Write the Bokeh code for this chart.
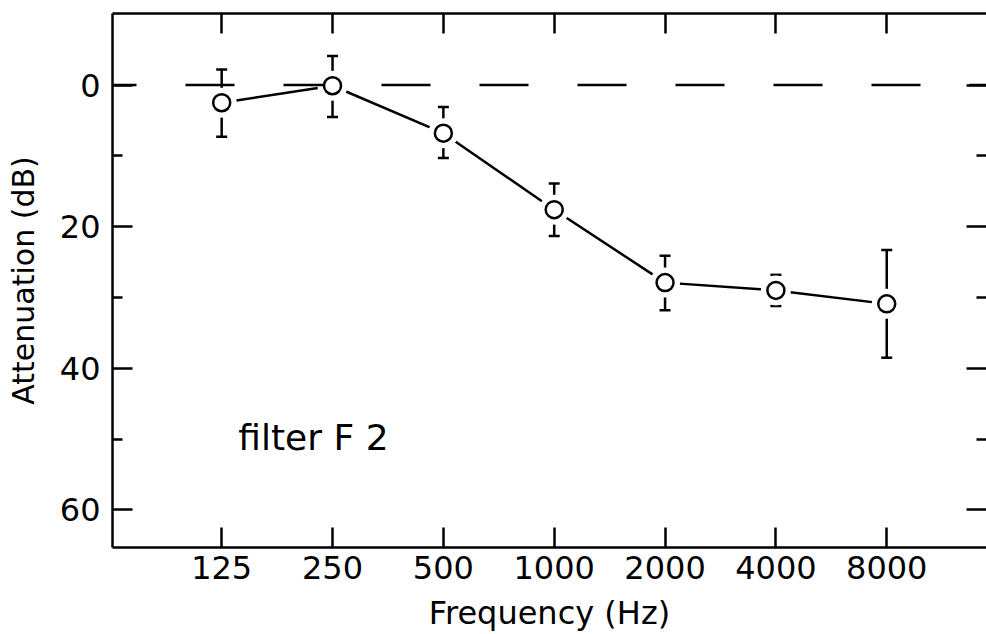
from bokeh.plotting import figure
from bokeh.models import (Range1d, FixedTicker, LinearAxis, Span, Whisker,
                          ColumnDataSource, Label, TeeHead)
from bokeh.embed import file_html
from bokeh.resources import INLINE

# ---- data ----
freq_labels = ["125", "250", "500", "1000", "2000", "4000", "8000"]
freq_index = [0, 1, 2, 3, 4, 5, 6]
attenuation = [2.5, 0.1, 6.8, 17.6, 27.9, 29.0, 30.9]
err_low = [-2.2, -4.1, 3.1, 13.9, 24.1, 26.8, 23.3]
err_high = [7.3, 4.5, 10.3, 21.3, 31.8, 31.2, 38.5]
y_major = [0, 20, 40, 60]
y_minor = [10, 30, 50]

FONT = "DejaVu Sans"
LW = 2.5

src = ColumnDataSource(dict(x=freq_index, y=attenuation, lo=err_low, hi=err_high))

p = figure(width=986, height=634, output_backend="svg", toolbar_location=None,
           x_range=Range1d(-0.985, 6.9), y_range=Range1d(65.3, -10.1),
           min_border_left=112, min_border_top=13, min_border_right=0,
           min_border_bottom=84, x_axis_location=None, y_axis_location=None)
p.background_fill_color = "white"
p.border_fill_color = "white"
p.outline_line_color = None
p.xgrid.visible = False
p.ygrid.visible = False

def style(ax, labels=True):
    ax.axis_line_width = LW
    ax.axis_line_color = "black"
    ax.major_tick_line_width = LW
    ax.major_tick_line_color = "black"
    ax.minor_tick_line_width = LW
    ax.minor_tick_line_color = "black"
    ax.major_tick_in = 20
    ax.major_tick_out = 0
    ax.minor_tick_in = 10
    ax.minor_tick_out = 0
    ax.major_label_text_color = "black"
    ax.major_label_text_font = FONT
    ax.major_label_text_font_size = "32px"
    ax.axis_label_text_font = FONT
    ax.axis_label_text_font_style = "normal"
    ax.axis_label_text_color = "black"
    if not labels:
        ax.major_label_text_color = None
        ax.major_label_text_font_size = "1px"
        ax.major_label_standoff = 0

xticker = FixedTicker(ticks=freq_index, minor_ticks=[])
yticker = FixedTicker(ticks=y_major, minor_ticks=y_minor)
overrides = {i: lab for i, lab in zip(freq_index, freq_labels)}

xb = LinearAxis(ticker=xticker, axis_label="Frequency (Hz)")
style(xb)
xb.major_label_overrides = overrides
xb.axis_label_text_font_size = "32px"
xb.major_label_standoff = 8
xb.axis_label_standoff = 12
p.add_layout(xb, "below")

xt = LinearAxis(ticker=xticker)
style(xt, labels=False)
p.add_layout(xt, "above")

yl = LinearAxis(ticker=yticker, axis_label="Attenuation (dB)")
style(yl)
yl.axis_label_text_font_size = "30px"
yl.major_label_standoff = 12
yl.axis_label_standoff = 16
p.add_layout(yl, "left")

yr = LinearAxis(ticker=yticker)
style(yr, labels=False)
yr.axis_line_color = None
p.add_layout(yr, "right")

# error bars
wh = Whisker(source=src, base="x", lower="lo", upper="hi",
             line_width=LW, line_color="black", level="underlay",
             upper_head=TeeHead(size=11, line_width=LW, line_color="black"),
             lower_head=TeeHead(size=11, line_width=LW, line_color="black"))
p.add_layout(wh)

# connecting line
p.line("x", "y", source=src, line_width=LW, line_color="black", level="underlay")
# white gap around markers
p.scatter("x", "y", source=src, size=30, marker="circle",
          fill_color="white", line_color=None, level="glyph")

# dashed zero reference line
p.add_layout(Span(location=0, dimension="width", line_color="black",
                  line_width=LW, line_dash="49 49", line_dash_offset=25))

# markers
p.scatter("x", "y", source=src, size=17, marker="circle", fill_color="white",
          line_color="black", line_width=LW, level="overlay")

p.add_layout(Label(x=0.15, y=49.8, text="filter F 2", text_font=FONT,
                   text_font_size="36px", text_color="black",
                   text_baseline="alphabetic"))

open("out.html", "w").write(file_html(p, INLINE))
